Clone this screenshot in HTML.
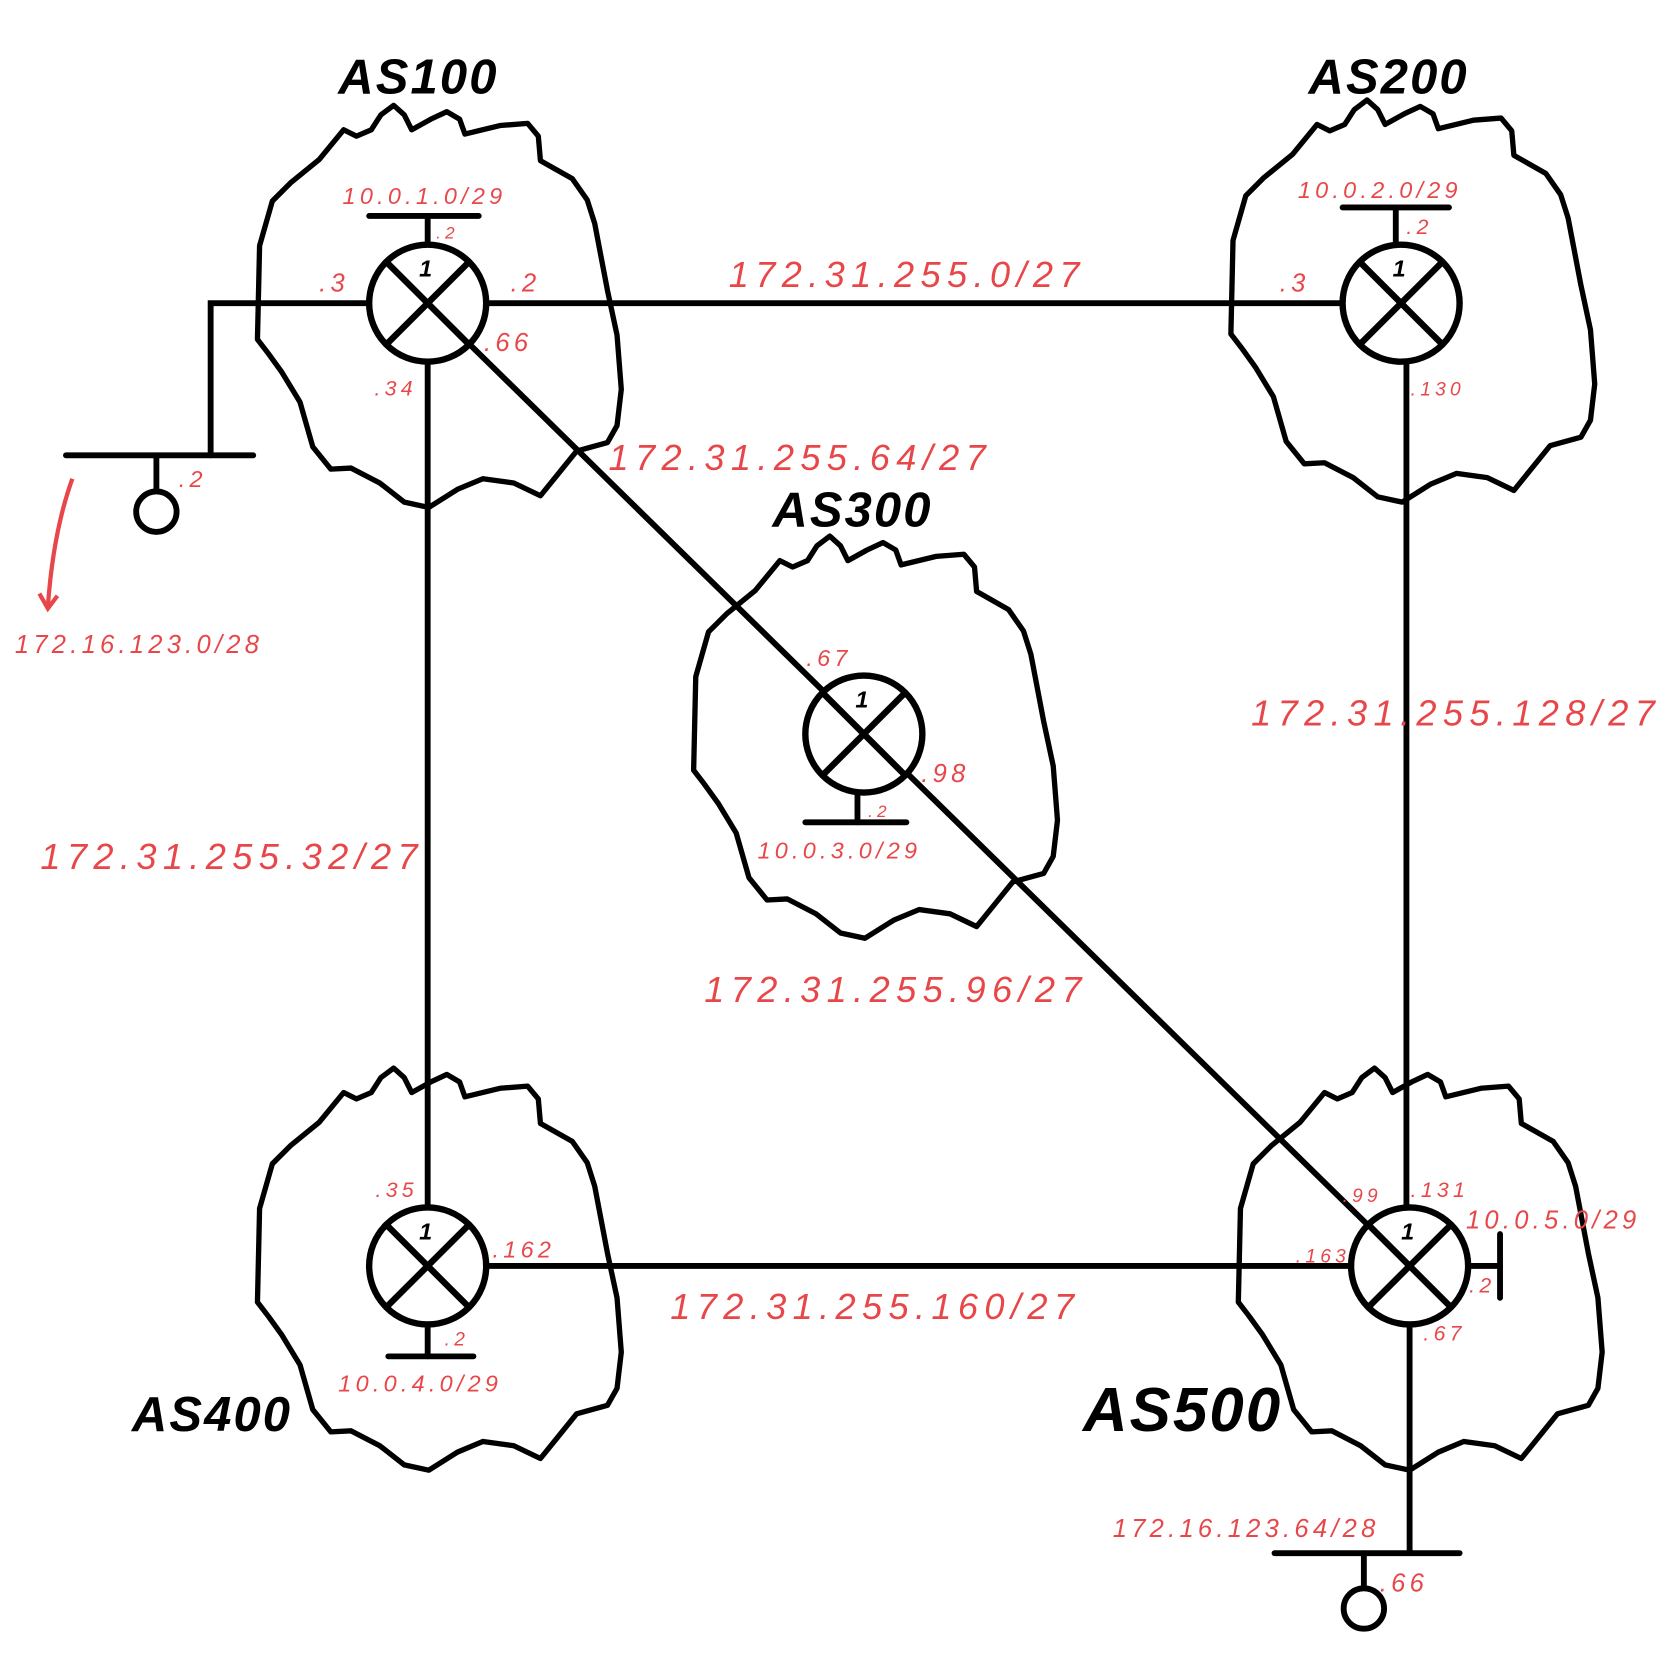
<!DOCTYPE html>
<html><head><meta charset="utf-8"><style>
html,body{margin:0;padding:0;background:#fff;}
svg{display:block}
.r{fill:#e8474a;font-family:"Liberation Sans",sans-serif;font-style:italic;letter-spacing:4px}
.big{letter-spacing:6px}
.b{fill:#000;font-family:"Liberation Sans",sans-serif;font-style:italic;font-weight:bold}
</style></head><body>
<svg width="1666" height="1667" viewBox="0 0 1566 1567" preserveAspectRatio="none" xmlns="http://www.w3.org/2000/svg">
<defs>
<polygon id="cl" points="33,72 60,50 83,22 95,28 109,22 118,8 130,-1 140,8 147,22 165,12 180,5 192,12 197,26 230,18 256,16 266,28 268,51 298,68 312,88 319,110 331,173 340,215 344,266 340,300 331,316 302,324 285,345 268,366 243,354 214,350 190,360 163,377 140,372 117,354 90,340 71,341 54,320 42,278 25,250 12,232 2,219 4,131 16,89" fill="none" stroke="#000" stroke-width="5" stroke-linejoin="round"/>
<g id="rt">
<circle cx="0" cy="0" r="55" fill="#fff" stroke="#000" stroke-width="6"/>
<line x1="-39" y1="-39" x2="39" y2="39" stroke="#000" stroke-width="6"/>
<line x1="39" y1="-39" x2="-39" y2="39" stroke="#000" stroke-width="6"/>
<text x="-8" y="-25" class="b" font-size="22">1</text>
</g>
</defs>
<g>
<use href="#cl" x="240" y="100"/>
<use href="#cl" x="1155" y="95"/>
<use href="#cl" x="650" y="505"/>
<use href="#cl" x="240" y="1005"/>
<use href="#cl" x="1162" y="1005"/>
</g>
<g stroke="#000" stroke-width="5.5" fill="none" stroke-linecap="round">
<line x1="402" y1="285" x2="1317" y2="285"/>
<line x1="402" y1="285" x2="402" y2="1190"/>
<line x1="1322" y1="285" x2="1322" y2="1190"/>
<line x1="402" y1="1190" x2="1325" y2="1190"/>
<line x1="402" y1="285" x2="1325" y2="1190"/>
<polyline points="345,285 198,285 198,428"/>
<line x1="62" y1="428" x2="238" y2="428"/>
<line x1="147" y1="428" x2="147" y2="462"/>
<circle cx="147" cy="481" r="19" fill="#fff"/>
<line x1="402" y1="230" x2="402" y2="203"/><line x1="347" y1="203" x2="450" y2="203"/>
<line x1="1312" y1="230" x2="1312" y2="195"/><line x1="1262" y1="195" x2="1362" y2="195"/>
<line x1="806" y1="745" x2="806" y2="773"/><line x1="757" y1="773" x2="852" y2="773"/>
<line x1="402" y1="1245" x2="402" y2="1275"/><line x1="365" y1="1275" x2="445" y2="1275"/>
<line x1="1380" y1="1190" x2="1410" y2="1190"/><line x1="1410" y1="1160" x2="1410" y2="1220"/>
<line x1="1325" y1="1245" x2="1325" y2="1460"/>
<line x1="1198" y1="1460" x2="1372" y2="1460"/>
<line x1="1282" y1="1460" x2="1282" y2="1493"/>
<circle cx="1282" cy="1512" r="19" fill="#fff"/>
</g>
<path d="M68,450 Q50,500 45,570" stroke="#e8474a" stroke-width="4" fill="none"/>
<path d="M37,558 L45,572 L54,560" stroke="#e8474a" stroke-width="4" fill="none"/>
<use href="#rt" x="402" y="285"/>
<use href="#rt" x="1317" y="285"/>
<use href="#rt" x="812" y="690"/>
<use href="#rt" x="402" y="1190"/>
<use href="#rt" x="1325" y="1190"/>
<text class="b" x="318" y="88" font-size="46" style="letter-spacing:2px">AS100</text>
<text class="b" x="1230" y="88" font-size="46" style="letter-spacing:2px">AS200</text>
<text class="b" x="726" y="495" font-size="46" style="letter-spacing:2px">AS300</text>
<text class="b" x="124" y="1345" font-size="46" style="letter-spacing:2px">AS400</text>
<text class="b" x="1018" y="1345" font-size="58" style="letter-spacing:2px">AS500</text>
<g class="r">
<text x="322" y="192" font-size="22">10.0.1.0/29</text>
<text x="410" y="224" font-size="16">.2</text>
<text x="300" y="274" font-size="24">.3</text>
<text x="480" y="274" font-size="24">.2</text>
<text x="455" y="330" font-size="24">.66</text>
<text x="352" y="372" font-size="20">.34</text>
<text x="1220" y="186" font-size="22">10.0.2.0/29</text>
<text x="1322" y="220" font-size="20">.2</text>
<text x="1203" y="274" font-size="24">.3</text>
<text x="1326" y="372" font-size="18">.130</text>
<text class="big" x="685" y="270" font-size="34">172.31.255.0/27</text>
<text class="big" x="572" y="442" font-size="34">172.31.255.64/27</text>
<text class="big" x="1176" y="682" font-size="34">172.31.255.128/27</text>
<text class="big" x="38" y="817" font-size="34">172.31.255.32/27</text>
<text class="big" x="662" y="942" font-size="34">172.31.255.96/27</text>
<text class="big" x="630" y="1240" font-size="34">172.31.255.160/27</text>
<text x="758" y="626" font-size="22">.67</text>
<text x="866" y="735" font-size="24">.98</text>
<text x="816" y="768" font-size="16">.2</text>
<text x="712" y="807" font-size="22">10.0.3.0/29</text>
<text x="353" y="1125" font-size="20">.35</text>
<text x="463" y="1182" font-size="22">.162</text>
<text x="418" y="1265" font-size="18">.2</text>
<text x="318" y="1308" font-size="22">10.0.4.0/29</text>
<text x="1262" y="1130" font-size="18">.99</text>
<text x="1326" y="1125" font-size="20">.131</text>
<text x="1378" y="1155" font-size="24">10.0.5.0/29</text>
<text x="1218" y="1187" font-size="18">.163</text>
<text x="1381" y="1215" font-size="20">.2</text>
<text x="1338" y="1260" font-size="20">.67</text>
<text x="1046" y="1445" font-size="24">172.16.123.64/28</text>
<text x="1297" y="1496" font-size="24">.66</text>
<text x="168" y="458" font-size="22">.2</text>
<text x="14" y="614" font-size="24">172.16.123.0/28</text>
</g>
</svg>
</body></html>
